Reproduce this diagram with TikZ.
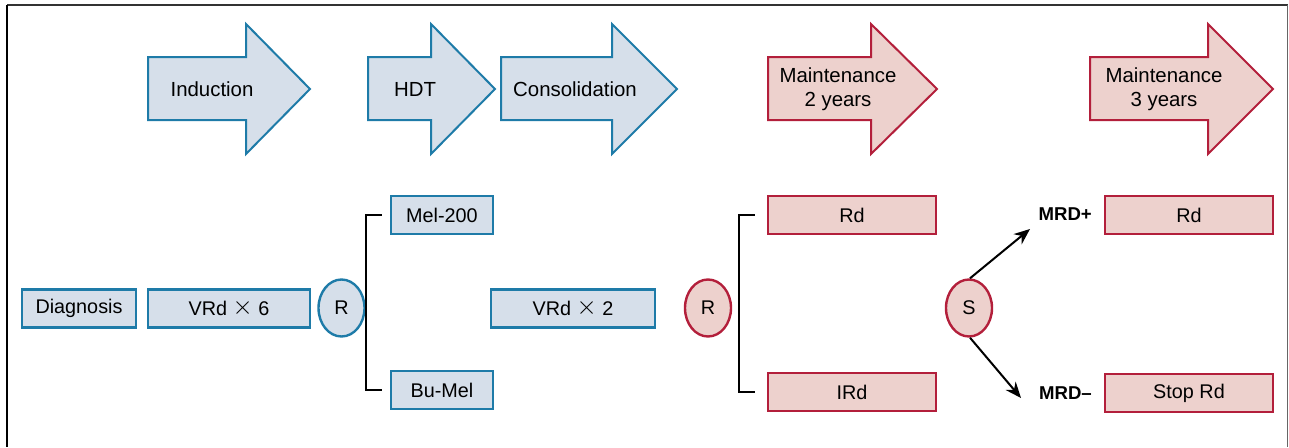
\documentclass[tikz,border=0pt]{standalone}
\usepackage{fontspec}
\setmainfont{Liberation Sans}
\usetikzlibrary{arrows.meta,shapes.geometric}
\definecolor{bfill}{HTML}{D6DFEA}
\definecolor{bline}{HTML}{1E7BA8}
\definecolor{rfill}{HTML}{EDD1CD}
\definecolor{rline}{HTML}{B31F3B}
\newcommand{\bigtimes}{\raisebox{0.02em}{\scalebox{1.25}{$\times$}}}
\tikzset{
  bbox/.style={draw=bline, fill=bfill, line width=2.4pt, rectangle, inner sep=0pt, font=\fontsize{19.8}{23}\selectfont},
  rbox/.style={draw=rline, fill=rfill, line width=2.4pt, rectangle, inner sep=0pt, font=\fontsize{19.8}{23}\selectfont},
  bcirc/.style={draw=bline, fill=bfill, line width=2.4pt, ellipse, inner sep=0pt, minimum width=46pt, minimum height=57pt, font=\fontsize{19.8}{23}\selectfont},
  rcirc/.style={draw=rline, fill=rfill, line width=2.4pt, ellipse, inner sep=0pt, minimum width=46pt, minimum height=57pt, font=\fontsize{19.8}{23}\selectfont},
  barrow/.style={draw=bline, fill=bfill, line width=2pt, line join=miter},
  rarrow/.style={draw=rline, fill=rfill, line width=2pt, line join=miter},
  atext/.style={inner sep=0pt, align=center, font=\fontsize{20.4}{24}\selectfont},
  bracket/.style={draw=black, line width=2.4pt},
  conn/.style={draw=black, line width=2pt, -{Stealth[length=16pt,width=13pt]}},
  mrd/.style={inner sep=0pt, font=\fontsize{18.6}{22}\selectfont\bfseries},
}
\begin{document}
\begin{tikzpicture}[x=1pt,y=-1pt]
\useasboundingbox (0,0) rectangle (1289,447);
% frame
\draw[line width=1.4pt, black!80] (7,5) -- (1288,5);
\draw[line width=2pt, black] (7,5) -- (7,447);
\draw[line width=1pt, black!60] (1287.5,5) -- (1287.5,447);

% block arrows
\draw[barrow] (148,57) -- (246,57) -- (246,24) -- (310,89) -- (246,154) -- (246,120) -- (148,120) -- cycle;
\draw[barrow] (368,57) -- (431,57) -- (431,24) -- (495,89) -- (431,154) -- (431,120) -- (368,120) -- cycle;
\draw[barrow] (501,57) -- (612,57) -- (612,24) -- (677,89) -- (612,154) -- (612,120) -- (501,120) -- cycle;
\draw[rarrow] (768,57) -- (871,57) -- (871,24) -- (937,89) -- (871,154) -- (871,120) -- (768,120) -- cycle;
\draw[rarrow] (1090,57) -- (1208,57) -- (1208,24) -- (1273,89) -- (1208,154) -- (1208,120) -- (1090,120) -- cycle;

\node[atext] (tind) at (212,89) {Induction};
\node[atext] (thdt) at (415,89) {HDT};
\node[atext] (tcons) at (575,89) {Consolidation};
\node[atext] (tm2) at (838,89) {Maintenance\\2 years};
\node[atext] (tm3) at (1164,89) {Maintenance\\3 years};

% bottom row
\node[bbox, minimum width=114pt, minimum height=38pt] (diag) at (79,308.5) {Diagnosis};
\node[bbox, minimum width=162pt, minimum height=38pt] (vrd6) at (229,308.5) {VRd \bigtimes{} 6};
\node[bcirc] (r1) at (341.5,308) {R};
\node[bbox, minimum width=102pt, minimum height=38pt] (mel) at (442,215) {Mel-200};
\node[bbox, minimum width=102pt, minimum height=38pt] (bumel) at (442,390) {Bu-Mel};
\node[bbox, minimum width=164pt, minimum height=38pt] (vrd2) at (573,308.5) {VRd \bigtimes{} 2};
\node[rcirc] (r2) at (708,308) {R};
\node[rbox, minimum width=168pt, minimum height=38pt] (rd1) at (852,215) {Rd};
\node[rbox, minimum width=168pt, minimum height=38pt] (ird) at (852,392) {IRd};
\node[rcirc] (s) at (969,308) {S};
\node[mrd, anchor=east] (mrdp) at (1092,214) {MRD+};
\node[mrd, anchor=east] (mrdm) at (1092,393) {MRD–};
\node[rbox, minimum width=168pt, minimum height=38pt] (rd2) at (1189,215) {Rd};
\node[rbox, minimum width=168pt, minimum height=38pt] (stop) at (1189,393) {Stop Rd};

% brackets
\draw[bracket] (mel.west) ++(-8,0) -- ++(-16,0) |- ([xshift=-8pt]bumel.west);
\draw[bracket] (rd1.west) ++(-12,0) -- ++(-16,0) |- ([xshift=-12pt]ird.west);

% connectors
\coordinate (up) at (1030,229);
\coordinate (dn) at (1021,398);
\draw[conn] (s.north) ++(1,0) -- (up);
\draw[conn] (s.south) ++(1,0) -- (dn);
\end{tikzpicture}
\end{document}
